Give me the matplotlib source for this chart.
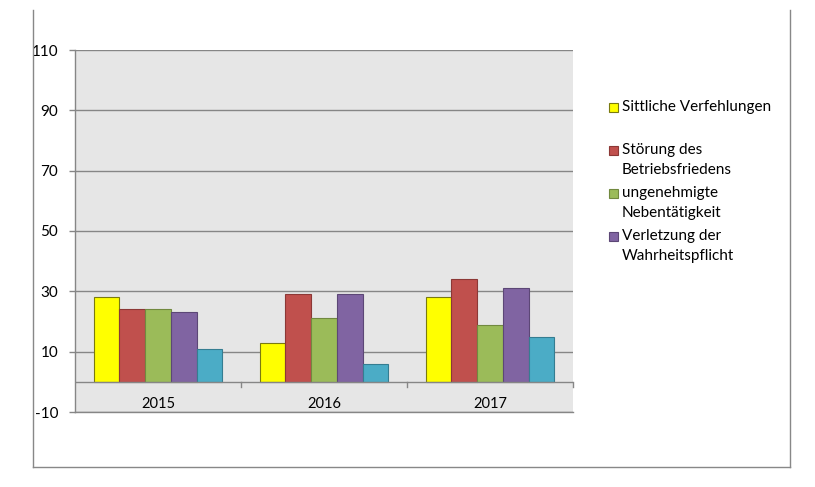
import matplotlib.pyplot as plt
from matplotlib.lines import Line2D
from matplotlib.patches import Rectangle
import numpy as np

plt.rcParams['font.family'] = ['Lato', 'DejaVu Sans']
plt.rcParams['axes.unicode_minus'] = False

years = ['2015', '2016', '2017']
sittlich = [28, 13, 28]
stoerung = [24, 29, 34]
ungenehmigt = [24, 21, 19]
verletzung = [23, 29, 31]
sonstige = [11, 6, 15]

series = [sittlich, stoerung, ungenehmigt, verletzung, sonstige]
labels = ['Sittliche Verfehlungen', 'Störung des\nBetriebsfriedens',
          'ungenehmigte\nNebentätigkeit', 'Verletzung der\nWahrheitspflicht']
colors = ['#FFFF00', '#C0504D', '#9BBB59', '#8064A2', '#4BACC6']
edges = ['#7A7A10', '#8C3836', '#71893F', '#5C4776', '#357D91']

W, H = 815, 487
fig = plt.figure(figsize=(W / 100, H / 100), dpi=100)

# plot area in pixels: x 75..573, y 50..412
ax = fig.add_axes([75 / W, 1 - 412 / H, (573 - 75) / W, (412 - 50) / H])
ax.set_facecolor('#E6E6E6')

x = np.arange(len(years))
width = 0.155
for i, vals in enumerate(series):
    ax.bar(x + (i - 2) * width, vals, width, color=colors[i],
           edgecolor=edges[i], linewidth=0.8, zorder=3)

ax.set_xlim(-0.5, len(years) - 0.5)
ax.set_ylim(-10, 110)
ax.set_yticks(np.arange(-10, 111, 20))
ax.yaxis.grid(True, color='#868686', linewidth=1, zorder=0)
ax.set_axisbelow(True)
ax.tick_params(axis='y', direction='out', length=4, width=1, color='#868686',
               pad=8, labelsize=11)
ax.set_xticks([])
for s in ['top', 'right']:
    ax.spines[s].set_visible(False)
for s in ['left', 'bottom']:
    ax.spines[s].set_color('#868686')
    ax.spines[s].set_linewidth(1)

# category axis at zero
ax.axhline(0, color='#868686', linewidth=1, zorder=4)
for b in np.arange(0.5, len(years), 1.0):
    ax.plot([b, b], [0, -1.7], color='#868686', linewidth=1, zorder=4,
            clip_on=False)
for xi, yr in zip(x, years):
    ax.text(xi, -7.3, yr, ha='center', va='center', fontsize=10.5)

# legend drawn by hand (markers align with first line)
legend_y = [107, 150, 193, 236]
for lab, col, ec, ly in zip(labels, colors, edges, legend_y):
    fig.add_artist(Rectangle((609 / W, 1 - (ly + 5) / H), 9 / W, 9 / H,
                             facecolor=col, edgecolor=ec, linewidth=0.8,
                             transform=fig.transFigure))
    for k, line in enumerate(lab.split('\n')):
        fig.text(622 / W, 1 - (ly + 20 * k) / H, line, ha='left',
                 va='center', fontsize=11)

# outer chart frame
fx0, fx1 = 33 / W, 790 / W
fy0, fy1 = 1 - 467 / H, 1 - 10 / H
for xs, ys in [([fx0, fx0], [fy0, fy1]), ([fx1, fx1], [fy0, fy1]),
               ([fx0, fx1], [fy0, fy0])]:
    fig.add_artist(Line2D(xs, ys, color='#888888', linewidth=1,
                          transform=fig.transFigure))

fig.savefig('out.png', dpi=100)
